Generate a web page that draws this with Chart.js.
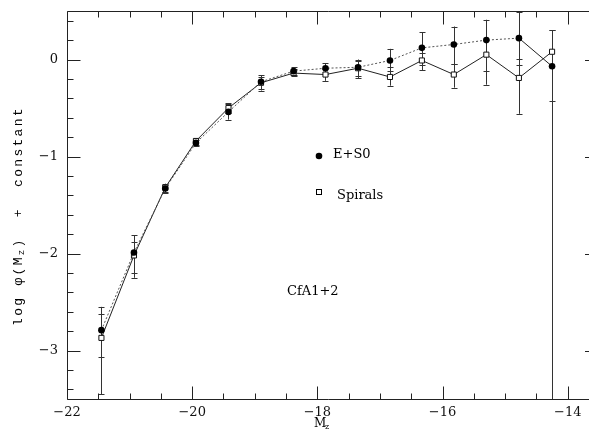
<!DOCTYPE html>
<html>
<head>
<meta charset="utf-8">
<script src="https://cdn.jsdelivr.net/npm/chart.js@4"></script>
<style>
  html, body { margin: 0; padding: 0; background: #fff; }
  #wrap { width: 594px; height: 429px; }
</style>
</head>
<body>
<div id="wrap"><canvas id="lf"></canvas></div>
<script>
// magnitudes (bin centres)
const magnitudes = [-21.45, -20.93, -20.43, -19.94, -19.42, -18.9, -18.38, -17.87, -17.35, -16.84, -16.33, -15.82, -15.3, -14.78, -14.25];

// E+S0 : log phi + const, with upper / lower ends of the error bars
const ellValues = [-2.79, -1.99, -1.33, -0.86, -0.54, -0.23, -0.12, -0.09, -0.08, -0.01, 0.12, 0.155, 0.20, 0.22, -0.07];
const ellUpper  = [-2.55, -1.81, -1.29, -0.83, -0.46, -0.16, -0.08, -0.04, 0.0, 0.11, 0.28, 0.34, 0.41, 0.49, 0.30];
const ellLower  = [-3.07, -2.20, -1.38, -0.89, -0.62, -0.32, -0.16, -0.15, -0.17, -0.12, -0.06, -0.05, -0.12, -0.06, -0.43];

// Spirals
const spiralValues = [-2.87, -2.02, -1.32, -0.84, -0.50, -0.24, -0.14, -0.155, -0.09, -0.18, -0.01, -0.155, 0.05, -0.19, 0.08];
const spiralUpper  = [-2.62, -1.88, -1.28, -0.81, -0.45, -0.18, -0.10, -0.10, -0.02, -0.08, 0.07, -0.05, 0.20, 0.01, 0.30];
const spiralLower  = [-3.45, -2.25, -1.37, -0.88, -0.55, -0.30, -0.17, -0.22, -0.19, -0.27, -0.11, -0.29, -0.26, -0.56, -3.60];

// axis ticks
const xTickLabels = [-22, -20, -18, -16, -14];
const yTickLabels = [0, -1, -2, -3];

const serif = "'DejaVu Serif', serif";
const minus = v => String(v).replace('-', '\u2212');

const pts = (xs, ys) => xs.map((x, i) => ({ x: x, y: ys[i] }));
const last = magnitudes.length - 1;

// fondo blanco
const bgPlugin = {
  id: 'bg',
  beforeDraw(chart) {
    const c = chart.ctx;
    c.save();
    c.fillStyle = '#fff';
    c.fillRect(0, 0, chart.width, chart.height);
    c.restore();
  }
};

// barras de error, debajo de los puntos
const errPlugin = {
  id: 'errbars',
  beforeDatasetsDraw(chart) {
    const c = chart.ctx, xs = chart.scales.x, ys = chart.scales.y, a = chart.chartArea;
    c.save();
    c.beginPath();
    c.rect(a.left, a.top, a.right - a.left, a.bottom - a.top);
    c.clip();
    c.strokeStyle = '#333';
    c.lineWidth = 1;
    const bars = (up, lo) => {
      magnitudes.forEach((m, i) => {
        const px = Math.round(xs.getPixelForValue(m)) + 0.5;
        const y1 = ys.getPixelForValue(up[i]), y2 = ys.getPixelForValue(lo[i]);
        c.beginPath();
        c.moveTo(px, y1); c.lineTo(px, y2);
        c.moveTo(px - 3, Math.round(y1) + 0.5); c.lineTo(px + 3, Math.round(y1) + 0.5);
        c.moveTo(px - 3, Math.round(y2) + 0.5); c.lineTo(px + 3, Math.round(y2) + 0.5);
        c.stroke();
      });
    };
    bars(ellUpper, ellLower);
    bars(spiralUpper, spiralLower);
    c.restore();
  }
};

// marco, marcas hacia dentro, leyenda y titulos
const framePlugin = {
  id: 'frame',
  afterDraw(chart) {
    const c = chart.ctx, xs = chart.scales.x, ys = chart.scales.y, a = chart.chartArea;
    c.save();
    c.strokeStyle = '#222';
    c.lineWidth = 1;
    const L = a.left + 0.5, R = a.right, T = Math.round(a.top) + 0.5, B = Math.round(a.bottom) + 0.5;
    c.beginPath();
    c.moveTo(R, T); c.lineTo(L, T); c.lineTo(L, B); c.lineTo(R, B);
    c.stroke();

    c.beginPath();
    for (let v = -22; v <= -13.7; v += 0.5) {
      const px = Math.round(xs.getPixelForValue(v)) + 0.5;
      const len = Number.isInteger(v) && v % 2 === 0 ? 13 : 6;
      c.moveTo(px, B); c.lineTo(px, B - len);
      c.moveTo(px, T); c.lineTo(px, T + len);
    }
    for (let k = -17; k <= 2; k++) {
      const v = k * 0.2;
      const py = Math.round(ys.getPixelForValue(v)) + 0.5;
      const len = k % 5 === 0 ? 13 : 6;
      c.moveTo(L, py); c.lineTo(L + len, py);
      if (k % 5 === 0) { c.moveTo(a.right - 4, py); c.lineTo(a.right, py); }
    }
    c.stroke();

    // leyenda dentro del grafico
    c.fillStyle = '#000';
    c.beginPath();
    c.arc(319, 156, 3.3, 0, Math.PI * 2);
    c.fill();
    c.strokeStyle = '#000';
    c.strokeRect(316.5, 189.5, 5, 5);
    c.font = '13px ' + serif;
    c.textBaseline = 'middle';
    c.textAlign = 'left';
    c.fillText('E+S0', 333, 155);
    c.fillText('Spirals', 337, 196);
    c.fillText('CfA1+2', 287, 292);

    // titulo del eje y, con subindice
    c.translate(19, 216);
    c.rotate(-Math.PI / 2);
    const mono = "'Liberation Mono', monospace";
    const parts = [
      { t: 'log \u03c6(M', f: '13px ' + mono, dy: 0 },
      { t: 'z', f: '9px ' + mono, dy: 3 },
      { t: ')  +  constant', f: '13px ' + mono, dy: 0 }
    ];
    if ('letterSpacing' in c) c.letterSpacing = '2.3px';
    let w = 0;
    parts.forEach(p => { c.font = p.f; p.w = c.measureText(p.t).width; w += p.w; });
    let x0 = -w / 2;
    parts.forEach(p => { c.font = p.f; c.fillText(p.t, x0, p.dy); x0 += p.w; });
    c.restore();

    // titulo del eje x
    c.save();
    c.fillStyle = '#000';
    c.textBaseline = 'middle';
    c.font = '12px ' + serif;
    c.fillText('M', 314, 424);
    c.font = '8px ' + serif;
    c.fillText('z', 325, 427);
    c.restore();
  }
};

const ctx = document.getElementById('lf').getContext('2d');
const chart = new Chart(ctx, {
  type: 'scatter',
  data: {
    datasets: [
      {
        label: 'E+S0',
        data: pts(magnitudes, ellValues),
        showLine: true,
        borderColor: '#555',
        borderWidth: 1,
        borderDash: [2, 2],
        segment: { borderDash: s => s.p1DataIndex === last ? [] : [2, 2], borderColor: s => s.p1DataIndex === last ? '#222' : '#555' },
        pointStyle: 'circle',
        pointRadius: 3.3,
        pointBackgroundColor: '#000',
        pointBorderColor: '#000',
        pointBorderWidth: 0
      },
      {
        label: 'Spirals',
        data: pts(magnitudes, spiralValues),
        showLine: true,
        borderColor: '#222',
        borderWidth: 1,
        pointStyle: 'rect',
        pointRadius: 3.6,
        pointBackgroundColor: '#fff',
        pointBorderColor: '#111',
        pointBorderWidth: 1
      }
    ]
  },
  options: {
    responsive: true,
    maintainAspectRatio: false,
    animation: false,
    layout: { padding: { top: 11, right: 0, left: 0, bottom: 0 } },
    plugins: {
      legend: { display: false },
      tooltip: { enabled: false }
    },
    scales: {
      x: {
        type: 'linear',
        min: -22,
        max: -13.66,
        afterFit: s => { s.height = 30; s.paddingLeft = 0; s.paddingRight = 0; },
        afterBuildTicks: s => { s.ticks = xTickLabels.map(v => ({ value: v })); },
        grid: { display: false, drawTicks: false },
        border: { display: false },
        ticks: {
          autoSkip: false, maxRotation: 0, padding: 6, color: '#111',
          font: { family: serif, size: 13 },
          callback: v => minus(v)
        }
      },
      y: {
        type: 'linear',
        min: -3.5,
        max: 0.5,
        afterFit: s => { s.width = 67; s.paddingTop = 0; s.paddingBottom = 0; },
        afterBuildTicks: s => { s.ticks = yTickLabels.map(v => ({ value: v })); },
        grid: { display: false, drawTicks: false },
        border: { display: false },
        ticks: {
          autoSkip: false, padding: 9, color: '#111',
          font: { family: serif, size: 13 },
          callback: v => minus(v)
        }
      }
    }
  },
  plugins: [bgPlugin, errPlugin, framePlugin]
});
</script>
</body>
</html>
